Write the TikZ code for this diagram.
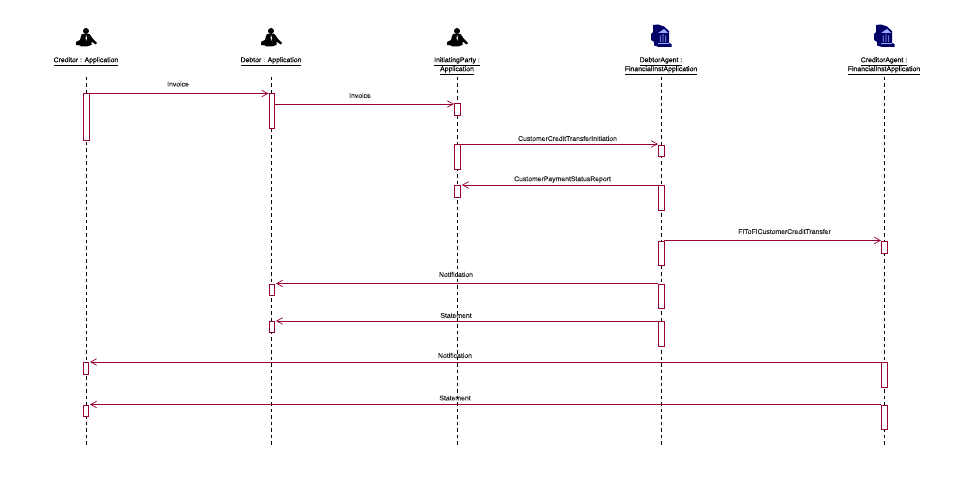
\documentclass[tikz,border=0pt]{standalone}
\usepackage{fontspec}
\setmainfont{Liberation Sans}
\usetikzlibrary{arrows.meta,calc}
\definecolor{msgcol}{RGB}{153,0,51}
\definecolor{banknavy}{RGB}{0,0,102}
\definecolor{banklight}{RGB}{153,170,255}
\newfontfamily\labelfont[FakeBold=0.25]{Liberation Sans}
\tikzset{
  x=1pt,y=-1pt,
  lifeline/.style={draw=black,line width=1pt,dash pattern=on 3.5pt off 3pt},
  actbox/.style={draw=msgcol,fill=white,line width=.9pt,minimum width=5.5pt,inner sep=0pt,anchor=north west,rectangle},
  msg/.style={draw=msgcol,line width=.9pt,-{Straight Barb[length=6pt,width=6.5pt,line width=.7pt]}},
  msglabel/.style={font=\labelfont\fontsize{6.85}{7}\selectfont,text=black!85,inner sep=0pt},
  headlabel/.style={font=\labelfont\fontsize{6.9}{9}\selectfont,text=black,inner sep=0pt,align=center,anchor=north},
  pics/actor/.style={code={
    \fill[black] (0,-6) circle (3);
    \fill[black] (-4,-3) -- (3.5,-3) -- (5,-1) -- (7,2) -- (11,6) -- (9.5,7.5) -- (5.5,4.5) -- (5.5,8) -- (1,9.5) -- (-5,9.5) -- (-6,8.5) -- (-10,8) -- (-10,5) -- (-6,3) -- (-5,-1) -- cycle;
    \fill[white] (0,-2) -- (1,1) -- (0.2,4) -- (-.4,1) -- cycle;
  }},
  pics/bank/.style={code={
    \fill[banknavy] (-8,-11) -- (-3,-11.5) -- (3,-9.5) -- (8,-5) -- (8,7) -- (10.5,8) -- (10.5,11) -- (-2,11) -- (-7,9.5) -- (-7,6) -- (-10,4) -- (-10,-2) -- (-8,-4) -- cycle;
    \fill[banklight] (-3,-3) -- (3,-7) -- (7,-3) -- cycle;
    \fill[banklight] (-1.2,-.5) rectangle (-.4,6) (1.6,-2) rectangle (2.4,6) (4.4,-.5) rectangle (5.2,6);
    \fill[banklight] (-3.5,6.6) rectangle (7.5,7.4);
  }},
}
\begin{document}
\begin{tikzpicture}
\useasboundingbox (0,0) rectangle (969,489);
\fill[white] (0,0) rectangle (969,489);

% Lifeline ends
\coordinate (ctop) at (86,77);   \coordinate (cbot) at (86,446);
\coordinate (dtop) at (271,77);  \coordinate (dbot) at (271,446);
\coordinate (itop) at (457.5,77);\coordinate (ibot) at (457.5,446);
\coordinate (atop) at (661,77);  \coordinate (abot) at (661,446);
\coordinate (rtop) at (884,77);  \coordinate (rbot) at (884,446);
\draw[lifeline] (ctop) -- (cbot);
\draw[lifeline] (dtop) -- (dbot);
\draw[lifeline] (itop) -- (ibot);
\draw[lifeline] (atop) -- (abot);
\draw[lifeline] (rtop) -- (rbot);

% Icons
\pic at (86,37) {actor};
\pic at (271,37) {actor};
\pic at (457,37) {actor};
\pic at (661,36) {bank};
\pic at (884,36) {bank};

% Headers
\node[headlabel] (hc) at (86,57) {\underline{Creditor : Application}};
\node[headlabel] (hd) at (271,57) {\underline{Debtor : Application}};
\node[headlabel] (hi) at (457,57) {\underline{InitiatingParty :}\\\underline{Application}};
\node[headlabel] (ha) at (661,57) {\underline{DebtorAgent :}\\\underline{FinancialInstApplication}};
\node[headlabel] (hr) at (884,57) {\underline{CreditorAgent :}\\\underline{FinancialInstApplication}};

% Activation boxes
\node[actbox,minimum height=47pt] (c1) at (83,93.5) {};
\node[actbox,minimum height=12pt] (c2) at (82.5,361.5) {};
\node[actbox,minimum height=11.5pt] (c3) at (82.5,404.5) {};
\node[actbox,minimum height=35pt] (d1) at (268.5,93.5) {};
\node[actbox,minimum height=11.5pt] (d2) at (268.5,283.5) {};
\node[actbox,minimum height=11.5pt] (d3) at (268.5,320.5) {};
\node[actbox,minimum width=6pt,minimum height=11.5pt] (i1) at (454,103.5) {};
\node[actbox,minimum width=6pt,minimum height=24.5pt] (i2) at (454,144.5) {};
\node[actbox,minimum width=6pt,minimum height=12pt] (i3) at (454,185.5) {};
\node[actbox,minimum height=11pt] (a1) at (658,145) {};
\node[actbox,minimum height=25pt] (a2) at (658,185.5) {};
\node[actbox,minimum height=24pt] (a3) at (658,241) {};
\node[actbox,minimum height=24pt] (a4) at (658,284) {};
\node[actbox,minimum height=25pt] (a5) at (658,321) {};
\node[actbox,minimum width=6pt,minimum height=12pt] (r1) at (881,241) {};
\node[actbox,minimum width=6pt,minimum height=25.5pt] (r2) at (881,361.5) {};
\node[actbox,minimum width=6pt,minimum height=24.5pt] (r3) at (881,404.5) {};

% Messages
\draw[msg] (c1.north east) -- (c1.north east -| d1.north west);
\draw[msg] ($(d1.north east)+(0,10.5)$) -- ($(i1.north west)+(0,.5)$);
\draw[msg] ($(i2.north east)+(0,-.5)$) -- ($(a1.north west)+(0,-1)$);
\draw[msg] ($(a2.north west)+(0,-.5)$) -- ($(i3.north east)+(1,-.5)$);
\draw[msg] ($(a3.north east)+(0,-.5)$) -- ($(r1.north west)+(0,-.5)$);
\draw[msg] ($(a4.north west)+(0,-.5)$) -- ($(d2.north east)+(1,0)$);
\draw[msg] ($(a5.north west)+(0,0)$) -- ($(d3.north east)+(1,.5)$);
\draw[msg] ($(r2.north west)+(0,.5)$) -- ($(c2.north east)+(1,.5)$);
\draw[msg] ($(r3.north west)+(0,0)$) -- ($(c3.north east)+(1,0)$);

% Message labels
\node[msglabel] (m1) at (178,84) {Invoice};
\node[msglabel] (m2) at (360,95.5) {Invoice};
\node[msglabel] (m3) at (567.5,138.5) {CustomerCreditTransferInitiation};
\node[msglabel] (m4) at (562.5,179.5) {CustomerPaymentStatusReport};
\node[msglabel] (m5) at (784.5,231.5) {FIToFICustomerCreditTransfer};
\node[msglabel] (m6) at (456,274.5) {Notification};
\node[msglabel] (m7) at (456,315.5) {Statement};
\node[msglabel] (m8) at (455,355.5) {Notification};
\node[msglabel] (m9) at (455,398) {Statement};
\end{tikzpicture}
\end{document}
